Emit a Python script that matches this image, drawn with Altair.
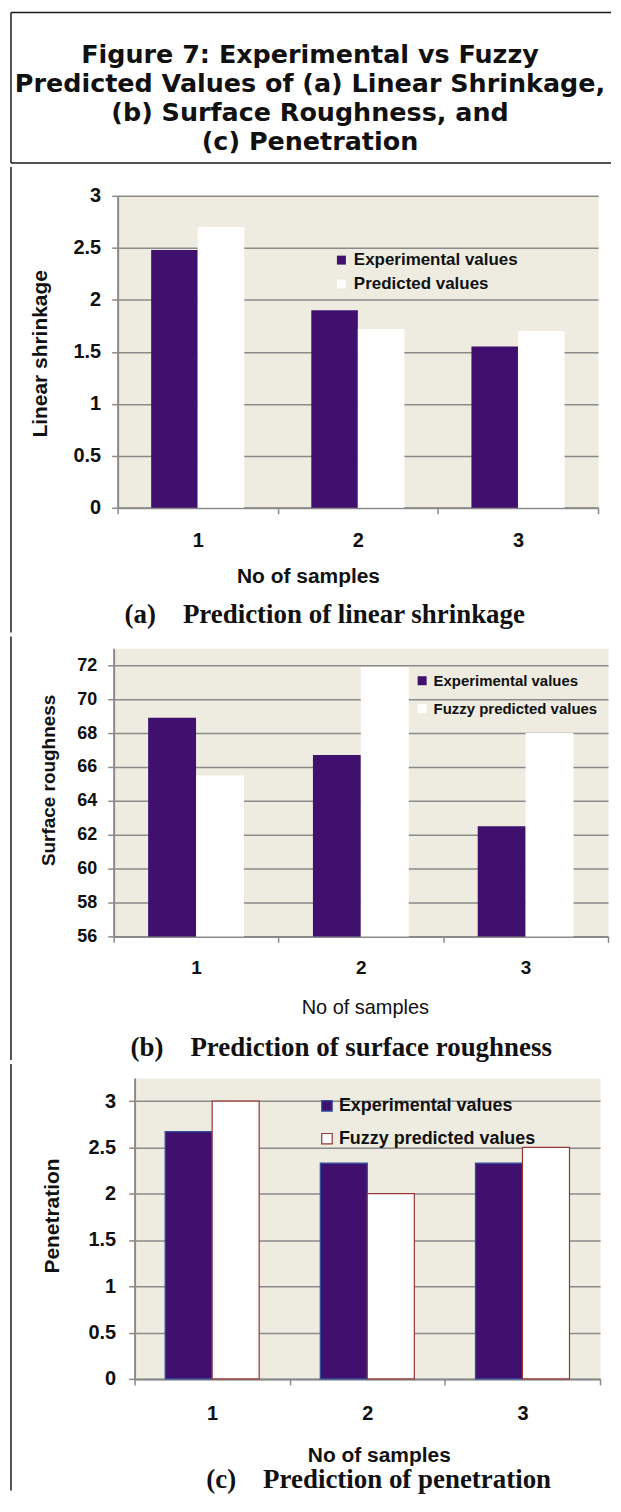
import altair as alt
import pandas as pd

# ---------------- data ----------------
samples = ["1", "2", "3"]
series_a = ["Experimental values", "Predicted values"]
series_bc = ["Experimental values", "Fuzzy predicted values"]

shrink_exp = [2.48, 1.90, 1.55]
shrink_pred = [2.70, 1.72, 1.70]
rough_exp = [68.9, 66.7, 62.5]
rough_pred = [65.5, 71.9, 68.0]
pen_exp = [2.67, 2.33, 2.33]
pen_pred = [3.0, 2.0, 2.5]

ticks_a = [0, 0.5, 1, 1.5, 2, 2.5, 3]
ticks_b = [56, 58, 60, 62, 64, 66, 68, 70, 72]
ticks_c = [0, 0.5, 1, 1.5, 2, 2.5, 3]

title_lines = [
    "Figure 7: Experimental vs Fuzzy",
    "Predicted Values of (a) Linear Shrinkage,",
    "(b) Surface Roughness, and",
    "(c) Penetration",
]
y_titles = ["Linear shrinkage", "Surface roughness", "Penetration"]
x_title = "No of samples"
subtitles = [
    "(a)\u00a0\u00a0\u00a0\u00a0Prediction of linear shrinkage",
    "(b)\u00a0\u00a0\u00a0\u00a0Prediction of surface roughness",
    "(c)\u00a0\u00a0\u00a0\u00a0Prediction of penetration",
]

# ---------------- style ----------------
SANS = "Liberation Sans"
SERIF = "Liberation Serif"
PURPLE = "#3F106D"
BEIGE = "#EEECE1"
GRID = "#8A8A8A"
TEXT = "#111111"
FRAME = "#1A1A1A"
BLUE = "#2E4E9E"
RED = "#953735"

ONE = alt.Data(values=[{}])


def panel(exp, pred, series, ytitle, ticks, sub, c):
    df = pd.DataFrame({
        "sample": samples + samples,
        "series": [series[0]] * len(samples) + [series[1]] * len(samples),
        "value": exp + pred,
    })
    lo, hi = c["domain"]
    legend = alt.Legend(
        title=None, orient="none", legendX=c["lx"], legendY=c["ly"],
        symbolType="square", symbolSize=c["ss"], symbolStrokeWidth=c["ssw"],
        labelFont=SANS, labelFontWeight="bold", labelFontSize=c["lfs"],
        labelColor=TEXT, rowPadding=c["rp"], labelOffset=c["lo"], padding=0,
        labelLimit=400,
    )
    enc = dict(
        x=alt.X(
            "sample:N", sort=samples, title=x_title,
            scale=alt.Scale(paddingInner=0, paddingOuter=0),
            axis=alt.Axis(
                labelAngle=0, tickBand="extent", ticks=True, tickSize=6,
                tickColor=GRID, tickWidth=1.5, domainColor=GRID, domainWidth=2,
                labelFont=SANS, labelFontWeight="bold", labelFontSize=c["xlfs"],
                labelColor=TEXT, labelBaseline="alphabetic", labelPadding=c["xlp"],
                titleFont=SANS, titleFontWeight=c["xtw"], titleFontSize=c["xtfs"],
                titleColor=TEXT, titleBaseline="alphabetic", titleY=c["xty"],
                titleX=c["xtx"], grid=False,
            ),
        ),
        xOffset=alt.XOffset(
            "series:N", sort=series,
            scale=alt.Scale(paddingInner=0, paddingOuter=c["po"]),
        ),
        y=alt.Y(
            "value:Q", title=ytitle,
            scale=alt.Scale(domain=[lo, hi], nice=False, zero=False),
            axis=alt.Axis(
                values=ticks, format="~g", grid=True, gridColor=GRID, gridWidth=1.5,
                domainColor=GRID, domainWidth=2, tickColor=GRID, tickWidth=1.5,
                tickSize=6, labelFont=SANS, labelFontWeight="bold",
                labelFontSize=c["ylfs"], labelColor=TEXT, labelPadding=c["ylp"],
                titleFont=SANS, titleFontWeight="bold", titleFontSize=c["ytfs"],
                titleColor=TEXT, titleBaseline="middle", titleX=c["ytx"],
                titleY=c["yty"],
            ),
        ),
        y2=alt.datum(lo),
        fill=alt.Fill(
            "series:N", sort=series,
            scale=alt.Scale(domain=series, range=[PURPLE, "#FFFFFF"]),
            legend=legend,
        ),
    )
    if c.get("outline"):
        enc["stroke"] = alt.Stroke(
            "series:N", sort=series,
            scale=alt.Scale(domain=series, range=[BLUE, RED]),
            legend=legend,
        )
        bars = alt.Chart(df).mark_bar(strokeWidth=1.2).encode(**enc)
    else:
        bars = alt.Chart(df).mark_bar().encode(**enc)

    # invisible pin that fixes the panel's left extent
    pin = alt.Chart(ONE).mark_rule(strokeWidth=1, opacity=0).encode(
        x=alt.value(-c["pin"]), y=alt.value(0), y2=alt.value(10))

    subtitle = alt.Chart(alt.Data(values=[{"t": sub}])).mark_text(
        font=SERIF, fontWeight="bold", fontSize=27, align="left",
        baseline="middle", color=TEXT,
    ).encode(text="t:N", x=alt.value(c["sx"]), y=alt.value(c["sy"]))

    body = alt.layer(bars, pin, subtitle).properties(
        width=c["W"], height=c["H"],
        view=alt.ViewBackground(fill=BEIGE, stroke="transparent"),
    )
    # left frame line of the figure, as the anchor of the row
    frame = alt.Chart(ONE).mark_rule(color=FRAME, strokeWidth=1.5).encode(
        x=alt.value(0), y=alt.value(c["fy1"]), y2=alt.value(c["fy2"])
    ).properties(width=1, height=c["H"],
                 view=alt.ViewBackground(stroke="transparent"))
    return alt.hconcat(frame, body, spacing=0).resolve_scale(
        fill="independent", stroke="independent"
    ).resolve_legend(fill="independent", stroke="independent")


# pin = L - 11.25 (L = wanted plot left in page px)
cfg_a = dict(domain=[0, 3], W=482, H=313, pin=103.75, fy1=-29, fy2=438,
             lx=216, ly=56, ss=81, ssw=0, lfs=17, rp=6, lo=4,
             xlfs=20, xlp=33, xtw="bold", xtfs=21, xty=75, xtx=191,
             ylfs=20, ylp=11, ytfs=21, ytx=-77, yty=158,
             po=0.72, sx=7, sy=421)
cfg_b = dict(domain=[56, 73], W=496, H=289, pin=99.75, fy1=-12, fy2=413,
             lx=302, ly=25, ss=81, ssw=0, lfs=15, rp=12, lo=4,
             xlfs=19, xlp=31, xtw="normal", xtfs=20, xty=77, xtx=252,
             ylfs=18, ylp=11, ytfs=19, ytx=-65, yty=132,
             po=0.72, sx=17, sy=401)
cfg_c = dict(domain=[0, 3.25], W=467, H=302, pin=120.75, fy1=-14, fy2=414,
             lx=184, ly=19, ss=110, ssw=1.2, lfs=18, rp=15, lo=3,
             xlfs=20, xlp=35, xtw="bold", xtfs=21, xty=83, xtx=245,
             ylfs=20, ylp=13, ytfs=21, ytx=-82, yty=138,
             po=0.65, sx=72, sy=403, outline=True)

pa = panel(shrink_exp, shrink_pred, series_a, y_titles[0], ticks_a, subtitles[0], cfg_a)
pb = panel(rough_exp, rough_pred, series_bc, y_titles[1], ticks_b, subtitles[1], cfg_b)
pc = panel(pen_exp, pen_pred, series_bc, y_titles[2], ticks_c, subtitles[2], cfg_c)

# ---------------- figure title box ----------------
TW = 602
tdf = pd.DataFrame({"row": list(range(len(title_lines))), "line": title_lines})
title_text = alt.Chart(tdf).mark_text(
    font="DejaVu Sans", fontWeight="bold", fontSize=25.5, baseline="alphabetic",
    align="center", color=TEXT,
).encode(
    y=alt.Y("row:O", axis=None, scale=alt.Scale(type="point", range=[51, 138], padding=0)),
    x=alt.value(300),
    text="line:N",
)
top_line = alt.Chart(ONE).mark_rule(color=FRAME, strokeWidth=1.5).encode(
    x=alt.value(0), x2=alt.value(TW), y=alt.value(0))
bottom_line = alt.Chart(ONE).mark_rule(color=FRAME, strokeWidth=1.5).encode(
    x=alt.value(0), x2=alt.value(TW), y=alt.value(151))
left_line = alt.Chart(ONE).mark_rule(color=FRAME, strokeWidth=1.5).encode(
    x=alt.value(0), y=alt.value(0), y2=alt.value(151))
title_chart = alt.layer(title_text, top_line, bottom_line, left_line).properties(
    width=TW, height=151,
    view=alt.ViewBackground(fill="white", stroke="transparent"),
)

chart = alt.vconcat(title_chart, pa, pb, pc, spacing=0).resolve_scale(
    fill="independent", stroke="independent", x="independent", y="independent",
    xOffset="independent",
).properties(
    padding={"left": 1, "top": 0, "right": 0, "bottom": 0},
    background="white",
).configure_view(stroke="transparent")

chart.save("out.html", embed_options={"renderer": "svg", "actions": False})
